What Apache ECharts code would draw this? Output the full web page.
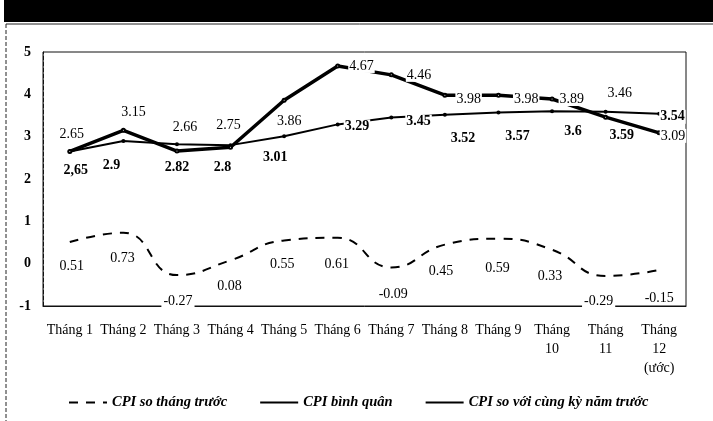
<!DOCTYPE html>
<html>
<head>
<meta charset="utf-8">
<script src="https://cdn.jsdelivr.net/npm/echarts@6/dist/echarts.min.js"></script>
<style>
  html, body { margin: 0; padding: 0; background: #fff; }
  #main { width: 713px; height: 421px; }
</style>
</head>
<body>
<div id="main"></div>
<script>
// data
const months = ['Tháng 1', 'Tháng 2', 'Tháng 3', 'Tháng 4', 'Tháng 5', 'Tháng 6',
  'Tháng 7', 'Tháng 8', 'Tháng 9', 'Tháng\n10', 'Tháng\n11', 'Tháng\n12\n(ước)'];
const momCpi = [0.51, 0.73, -0.27, 0.08, 0.55, 0.61, -0.09, 0.45, 0.59, 0.33, -0.29, -0.15];
const avgCpi = [2.65, 2.9, 2.82, 2.8, 3.01, 3.29, 3.45, 3.52, 3.57, 3.6, 3.59, 3.54];
const avgText = ['2,65', '2.9', '2.82', '2.8', '3.01', '3.29', '3.45', '3.52', '3.57', '3.6', '3.59', '3.54'];
const yoyCpi = [2.65, 3.15, 2.66, 2.75, 3.86, 4.67, 4.46, 3.98, 3.98, 3.89, 3.46, 3.09];
const legendNames = ['CPI so tháng trước', 'CPI bình quân', 'CPI so với cùng kỳ năm trước'];

const serif = '"Liberation Serif", "DejaVu Serif", serif';

// label placement per point (yoy / average)
const yoyPos = ['top', 'top', 'top', 'top', 'bottom', 'right', 'right', 'right', 'right', 'right', 'top', 'right'];
const yoyOff = [[2, 0], [10, 0], [8, -6], [-2, -4], [5, 4], [0, 0], [4, 0], [0, 4], [4, 4], [-4, 0], [14, -6], [-10, 3]];
const avgPos = ['bottom', 'bottom', 'bottom', 'bottom', 'bottom', 'right', 'right', 'bottom', 'bottom', 'bottom', 'bottom', 'right'];
const avgOff = [[6, 2], [-12, 7], [0, 6], [-8, 5], [-9, 4], [-4, 2], [4, 4], [18, 7], [19, 7], [21, 3], [16, 7], [-10, 3]];
// month-on-month labels sit under the dashed curve
const momOff = [[2, 3], [-1, 5], [1, 5], [-1, 5], [-2, 3], [-1, 5], [2, 6], [-4, 6], [-1, 9], [-2, 6], [-7, 4], [0, 7]];

const myChart = echarts.init(document.getElementById('main'));

const option = {
  animation: false,
  backgroundColor: '#fff',
  graphic: [
    { type: 'rect', shape: { x: 4, y: 0, width: 709, height: 22 }, style: { fill: '#000' } },
    { type: 'line', shape: { x1: 6, y1: 24, x2: 713, y2: 24 }, style: { stroke: '#222', lineWidth: 1 } },
    { type: 'line', shape: { x1: 6, y1: 24, x2: 6, y2: 421 }, style: { stroke: '#222', lineWidth: 1, lineDash: [4, 2] } }
  ],
  grid: {
    left: 43, right: 27, top: 52, bottom: 115,
    show: true, borderColor: '#111', borderWidth: 1
  },
  legend: {
    bottom: 6,
    left: 63,
    itemWidth: 38,
    itemHeight: 10,
    itemGap: 32,
    data: legendNames,
    itemStyle: { opacity: 0 },
    textStyle: { fontFamily: serif, fontStyle: 'italic', fontWeight: 'bold', fontSize: 14.5, color: '#000' }
  },
  xAxis: {
    type: 'category',
    data: months,
    boundaryGap: true,
    axisLine: { show: true, onZero: false, lineStyle: { color: '#111' } },
    axisTick: { show: false },
    axisLabel: {
      interval: 0, margin: 15, color: '#000',
      fontFamily: serif, fontSize: 14, lineHeight: 19
    }
  },
  yAxis: {
    type: 'value',
    min: -1, max: 5, interval: 1,
    splitLine: { show: false },
    axisLine: { show: true, lineStyle: { color: '#111', type: 'dashed' } },
    axisTick: { show: false },
    axisLabel: { margin: 12, color: '#000', fontFamily: serif, fontSize: 14, fontWeight: 'bold' }
  },
  series: [
    {
      name: legendNames[0],
      type: 'line',
      smooth: true,
      data: momCpi.map((v, i) => ({ value: v, label: { offset: momOff[i] } })),
      symbol: 'circle',
      symbolSize: 0.1,
      lineStyle: { color: '#000', width: 2, type: [9, 8] },
      itemStyle: { color: '#000' },
      label: {
        show: true, position: 'bottom', distance: 14, color: '#000',
        backgroundColor: '#fff', padding: [0, 2],
        fontFamily: serif, fontSize: 14
      }
    },
    {
      name: legendNames[1],
      type: 'line',
      data: avgCpi.map((v, i) => ({
        value: v,
        label: { position: avgPos[i], offset: avgOff[i], formatter: avgText[i] }
      })),
      symbol: 'circle',
      symbolSize: 4,
      lineStyle: { color: '#000', width: 2 },
      itemStyle: { color: '#000' },
      label: {
        show: true, distance: 8, color: '#000', backgroundColor: '#fff', padding: [0, 1],
        fontFamily: serif, fontSize: 14, fontWeight: 'bold'
      },
      z: 3
    },
    {
      name: legendNames[2],
      type: 'line',
      data: yoyCpi.map((v, i) => ({
        value: v,
        label: { position: yoyPos[i], offset: yoyOff[i] }
      })),
      symbol: 'emptyCircle',
      symbolSize: 3,
      lineStyle: { color: '#000', width: 3.5 },
      itemStyle: { color: '#000' },
      label: {
        show: true, distance: 8, color: '#000', backgroundColor: '#fff', padding: [0, 1],
        fontFamily: serif, fontSize: 14
      },
      z: 4
    }
  ]
};

myChart.setOption(option);
</script>
</body>
</html>
